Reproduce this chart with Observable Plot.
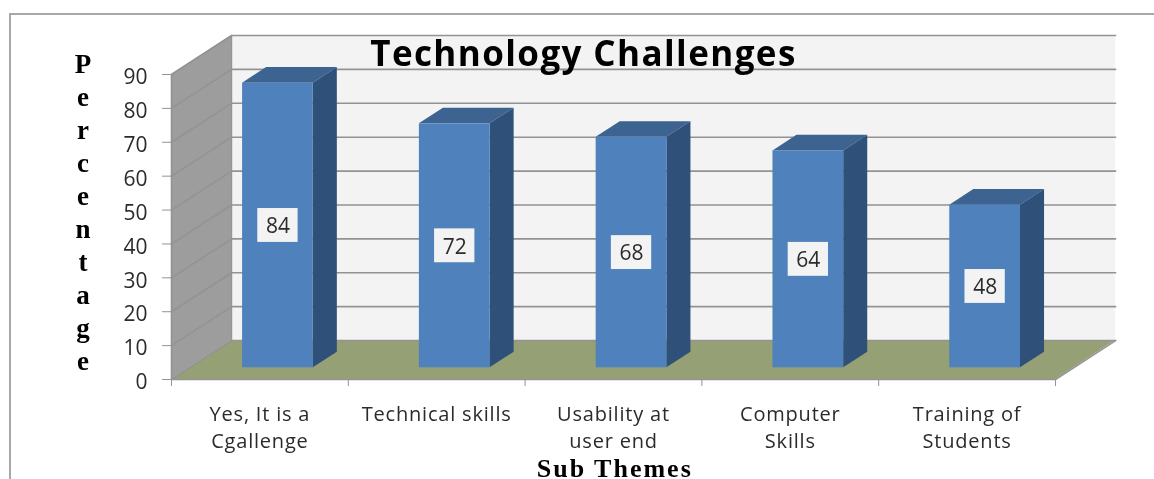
<!DOCTYPE html>
<html>
<head>
<meta charset="utf-8">
<script src="https://cdn.jsdelivr.net/npm/d3@7"></script>
<script src="https://cdn.jsdelivr.net/npm/@observablehq/plot@0.6"></script>
<style>
  html, body { margin: 0; padding: 0; background: #fff; overflow: hidden; }
  #wrap { position: relative; width: 1154px; height: 479px; }
  #frame { position: absolute; left: 9px; top: 13px; right: 0; bottom: 0;
           border-left: 2px solid #a8a8a8; border-top: 2px solid #a8a8a8; pointer-events: none; }
  svg { display: block; filter: blur(0.45px); }
  .cat text { letter-spacing: 0.8px; }
  .ttl text { letter-spacing: 1.4px; }
  .xttl text { letter-spacing: 2px; }
</style>
</head>
<body>
<div id="wrap"><div id="frame"></div></div>
<script>
const categories = ["Yes, It is a\nCgallenge", "Technical skills", "Usability at\nuser end", "Computer\nSkills", "Training of\nStudents"];
const values = [84, 72, 68, 64, 48];
const yTicks = [0, 10, 20, 30, 40, 50, 60, 70, 80, 90];
const xTicks = [0, 1, 2, 3, 4, 5];
const titleText = "Technology Challenges";
const yTitle = "Percentage";
const xTitle = "Sub Themes";

// oblique projection: depth 0 (front) .. 1 (back) shifts a point in data units
const kx = 0.34, ky = 11.5;
const barFront = 0.3, barBack = 0.7, barWidth = 0.4;
const px = (x, d) => x + d * kx;
const py = (y, d) => y + d * ky;
const face = (a1, a2, b1, b2, z = 0) => [
  {x1: a1[0], y1: a1[1], x2: a2[0], y2: a2[1], z},
  {x1: b1[0], y1: b1[1], x2: b2[0], y2: b2[1], z}
];
const P = (x, y, d) => [px(x, d), py(y, d)];
const area = (data, fill) => Plot.area(data, {x1: "x1", y1: "y1", x2: "x2", y2: "y2", z: "z", fill});

const bars = values.map((v, i) => ({i, v, l: i + 0.5 - barWidth / 2, r: i + 0.5 + barWidth / 2}));
const grid = yTicks.flatMap(t => [
  {t, x: px(0, 0), y: py(t, 0)},
  {t, x: px(0, 1), y: py(t, 1)},
  {t, x: px(5, 1), y: py(t, 1)}
]);

const GREY = "#939393";
const LABEL = "'Open Sans', sans-serif";
const SERIF = "'Liberation Serif', serif";

const plot = Plot.plot({
  width: 1154, height: 479,
  marginLeft: 171, marginRight: 99, marginTop: 74, marginBottom: 100,
  style: {background: "transparent"},
  x: {domain: [0, 5], axis: null},
  y: {domain: [0, 90], axis: null},
  marks: [
    // walls and floor
    Plot.rect([0], {x1: px(0, 1), x2: px(5, 1), y1: py(0, 1), y2: py(90, 1), fill: "#f3f3f3"}),
    area(face(P(0, 0, 0), P(0, 90, 0), P(0, 0, 1), P(0, 90, 1)), "#9d9d9d"),
    area(face(P(0, 0, 0), P(5, 0, 0), P(0, 0, 1), P(5, 0, 1)), "#95a174"),
    Plot.line(grid, {x: "x", y: "y", z: "t", stroke: GREY, strokeWidth: 1.6}),
    Plot.line([P(5, 0, 0), P(5, 0, 1)], {x: d => d[0], y: d => d[1], stroke: GREY, strokeWidth: 1.5}),
    Plot.line([P(0, 0, 1), P(0, 90, 1)], {x: d => d[0], y: d => d[1], stroke: GREY, strokeWidth: 1.2}),
    Plot.ruleX([0], {y1: 0, y2: 90, stroke: GREY, strokeWidth: 1.6}),
    Plot.ruleY([0], {x1: 0, x2: 5, stroke: GREY, strokeWidth: 1.6}),
    // axes
    Plot.axisY({ticks: yTicks, tickSize: 9, stroke: GREY, text: null}),
    Plot.axisY({ticks: yTicks, tickSize: 0, tickPadding: 24, dy: 3, anchor: "left", stroke: "none", fill: "#2b2b2b", fontSize: 21, fontFamily: LABEL, label: null}),
    Plot.axisX({ticks: xTicks, tickSize: 7, tickFormat: () => "", stroke: GREY, label: null}),
    // 3D bars
    area(bars.flatMap(b => face(P(b.l, b.v, barFront), P(b.r, b.v, barFront), P(b.l, b.v, barBack), P(b.r, b.v, barBack), b.i)), "#3d6390"),
    area(bars.flatMap(b => face(P(b.r, 0, barFront), P(b.r, b.v, barFront), P(b.r, 0, barBack), P(b.r, b.v, barBack), b.i)), "#2f5179"),
    Plot.rect(bars, {x1: d => px(d.l, barFront), x2: d => px(d.r, barFront), y1: py(0, barFront), y2: d => py(d.v, barFront), fill: "#4f81bd"}),
    // value labels
    Plot.rect(bars, {x1: d => px(d.i + 0.5, barFront) - 0.114, x2: d => px(d.i + 0.5, barFront) + 0.114,
                     y1: d => py(d.v / 2, barFront) - 5, y2: d => py(d.v / 2, barFront) + 5, fill: "#f3f3f3"}),
    Plot.text(bars, {x: d => px(d.i + 0.5, barFront), y: d => py(d.v / 2, barFront), text: d => String(d.v),
                     fontSize: 21, fontFamily: LABEL, fill: "#2b2b2b", dy: 1}),
    // category labels
    Plot.text(categories, {x: (d, i) => i + 0.5, y: 0, text: d => d, dy: 23, lineAnchor: "top", lineHeight: 1.32,
                           fontSize: 20, fontFamily: LABEL, fill: "#2b2b2b", className: "cat"}),
    // titles
    Plot.text([titleText], {x: 2.33, y: 95.7, text: d => d, fontSize: 35, fontWeight: 700, fontFamily: LABEL, fill: "#000", className: "ttl"}),
    Plot.text([yTitle], {x: -0.5, y: 49.8, text: d => d.split("").join("\n"), lineHeight: 1.222, fontSize: 27, fontWeight: 700, fontFamily: SERIF, fill: "#000"}),
    Plot.text([xTitle], {x: 2.507, y: -26.2, text: d => d, fontSize: 26, fontWeight: 700, fontFamily: SERIF, fill: "#000", className: "xttl"})
  ]
});
document.getElementById("wrap").prepend(plot);
</script>
</body>
</html>
